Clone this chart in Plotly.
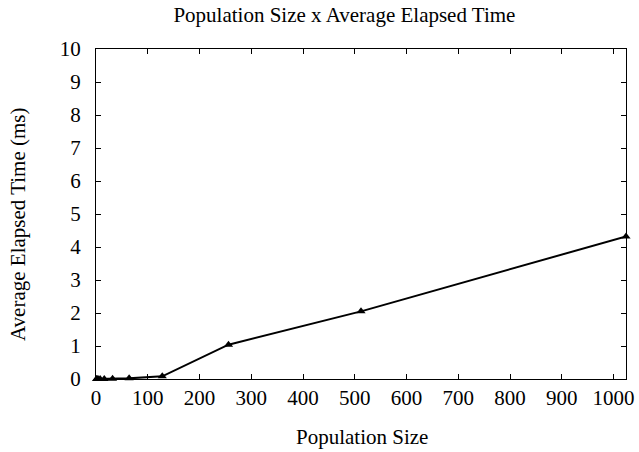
import plotly.graph_objects as go

population_size = [1, 2, 4, 8, 16, 32, 64, 128, 256, 512, 1024]
elapsed_ms = [0.0, 0.0, 0.0, 0.0, 0.0, 0.01, 0.02, 0.08, 1.04, 2.05, 4.32]
x_ticks = [0, 100, 200, 300, 400, 500, 600, 700, 800, 900, 1000]
y_ticks = [0, 1, 2, 3, 4, 5, 6, 7, 8, 9, 10]

font_family = "Liberation Serif, Times New Roman, serif"
FS = 21

fig = go.Figure()
fig.add_trace(go.Scatter(
    x=population_size, y=elapsed_ms, mode="lines+markers",
    line=dict(color="black", width=2),
    marker=dict(symbol="triangle-up", size=8, color="black"),
    showlegend=False, cliponaxis=False,
))

axis_common = dict(
    showline=True, linecolor="black", linewidth=1, mirror="ticks",
    ticks="inside", ticklen=5, tickcolor="black", tickwidth=1,
    showgrid=False, zeroline=False, automargin=False,
    tickfont=dict(family=font_family, size=FS, color="black"),
)

fig.update_layout(
    width=639, height=452,
    margin=dict(l=96, r=13, t=49, b=73),
    paper_bgcolor="white", plot_bgcolor="white",
    font=dict(family=font_family, color="black"),
    title=dict(text="Population Size x Average Elapsed Time",
               x=0.539, xanchor="center", y=1 - 15 / 452, yanchor="middle",
               font=dict(family=font_family, size=FS, color="black")),
    xaxis=dict(range=[0, 1024], tickvals=x_ticks, **axis_common),
    yaxis=dict(range=[0, 10], tickvals=y_ticks, ticklabelstandoff=10,
               **axis_common),
    annotations=[
        dict(text="Population Size", xref="paper", yref="paper",
             x=(362 - 96) / 530, y=-(437 - 379) / 330,
             xanchor="center", yanchor="middle", showarrow=False,
             font=dict(family=font_family, size=FS, color="black")),
        dict(text="Average Elapsed Time (ms)", xref="paper", yref="paper",
             x=-(96 - 18) / 530, y=(379 - 225) / 330, textangle=-90,
             xanchor="center", yanchor="middle", showarrow=False,
             font=dict(family=font_family, size=FS, color="black")),
    ],
)

fig.write_html(
    "out.html",
    config={"displayModeBar": False},
    post_script="document.body.style.margin='0';document.body.style.padding='0';",
)
